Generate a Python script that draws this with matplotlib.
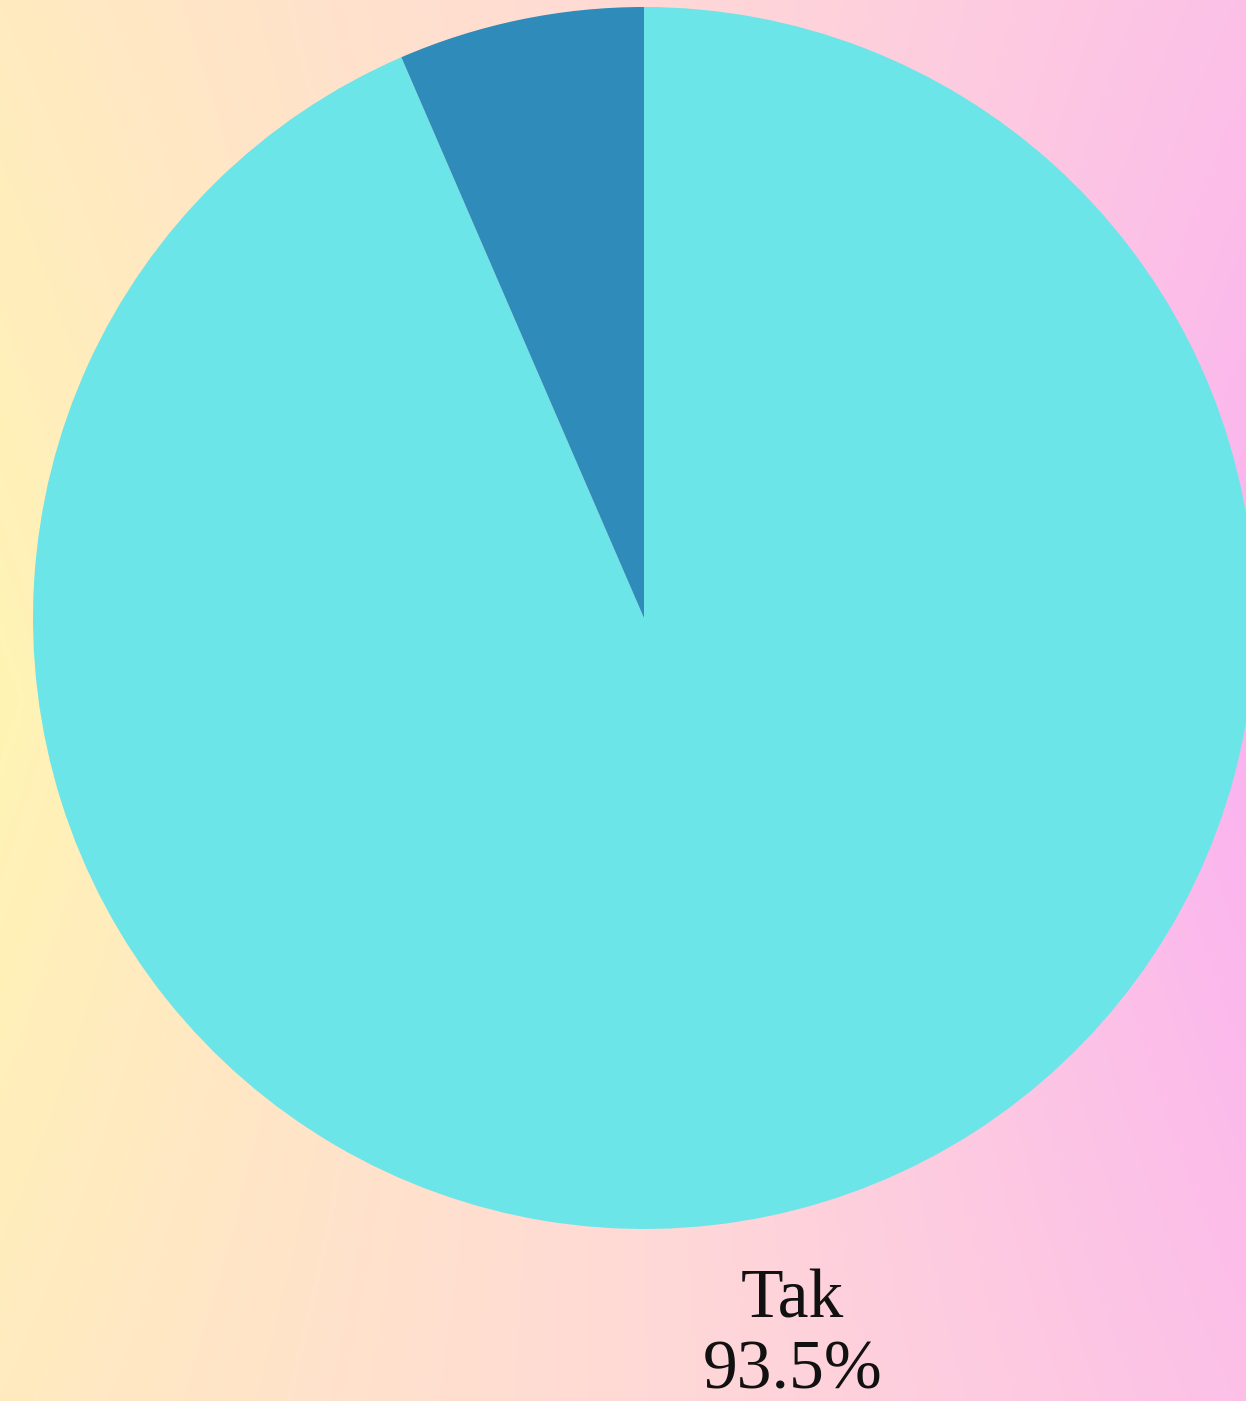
import numpy as np
import matplotlib
matplotlib.use("Agg")
import matplotlib.pyplot as plt
from matplotlib.colors import to_rgb

categories = ["Tak", "Nie"]
values = [93.5, 6.5]
shown_labels = ["Tak\n93.5%", ""]
colors = ["#6BE5E7", "#2E8BBA"]

W, H = 1246, 1401
fig = plt.figure(figsize=(W / 100, H / 100), dpi=100)

# gradient background
bg = fig.add_axes([0, 0, 1, 1])
bg.set_axis_off()
nx, ny = 400, 450
xs = np.linspace(0, 1, nx)
ys = np.linspace(0, 1, ny)
X, Y = np.meshgrid(xs, ys)
yellow = np.array(to_rgb("#FFF4B4"))
mid = np.array(to_rgb("#FFDAD6"))
pink = np.array(to_rgb("#FBB3F0"))
d = np.abs(Y - 0.5) * 2
t = 0.5 + (X - 0.5) * (1 - 0.35 * d)
t = np.clip(t, 0, 1)
img = np.where(t[..., None] < 0.5,
               yellow + (mid - yellow) * (t[..., None] / 0.5),
               mid + (pink - mid) * ((t[..., None] - 0.5) / 0.5))
bg.imshow(img, extent=[0, 1, 0, 1], aspect="auto", origin="lower")
bg.set_xlim(0, 1)
bg.set_ylim(0, 1)

# pie axes
r = 611
cx, cy = 644, 618
ax = fig.add_axes([(cx - r) / W, (H - cy - r) / H, 2 * r / W, 2 * r / H])
ax.set_axis_off()
wedges, texts = ax.pie(values, labels=shown_labels, colors=colors, startangle=90,
                       counterclock=False, radius=1, labeldistance=1.2,
                       wedgeprops=dict(linewidth=0))
for tx in texts:
    tx.set_ha("center")
    tx.set_va("center")
    tx.set_fontfamily(["Liberation Serif", "DejaVu Serif"])
    tx.set_fontsize(50)
    tx.set_linespacing(1.15)
    tx.set_color("#111111")
    tx.set_clip_on(False)
ax.set_xlim(-1, 1)
ax.set_ylim(-1, 1)
ax.set_aspect("equal")

fig.savefig("out.png", dpi=100)
